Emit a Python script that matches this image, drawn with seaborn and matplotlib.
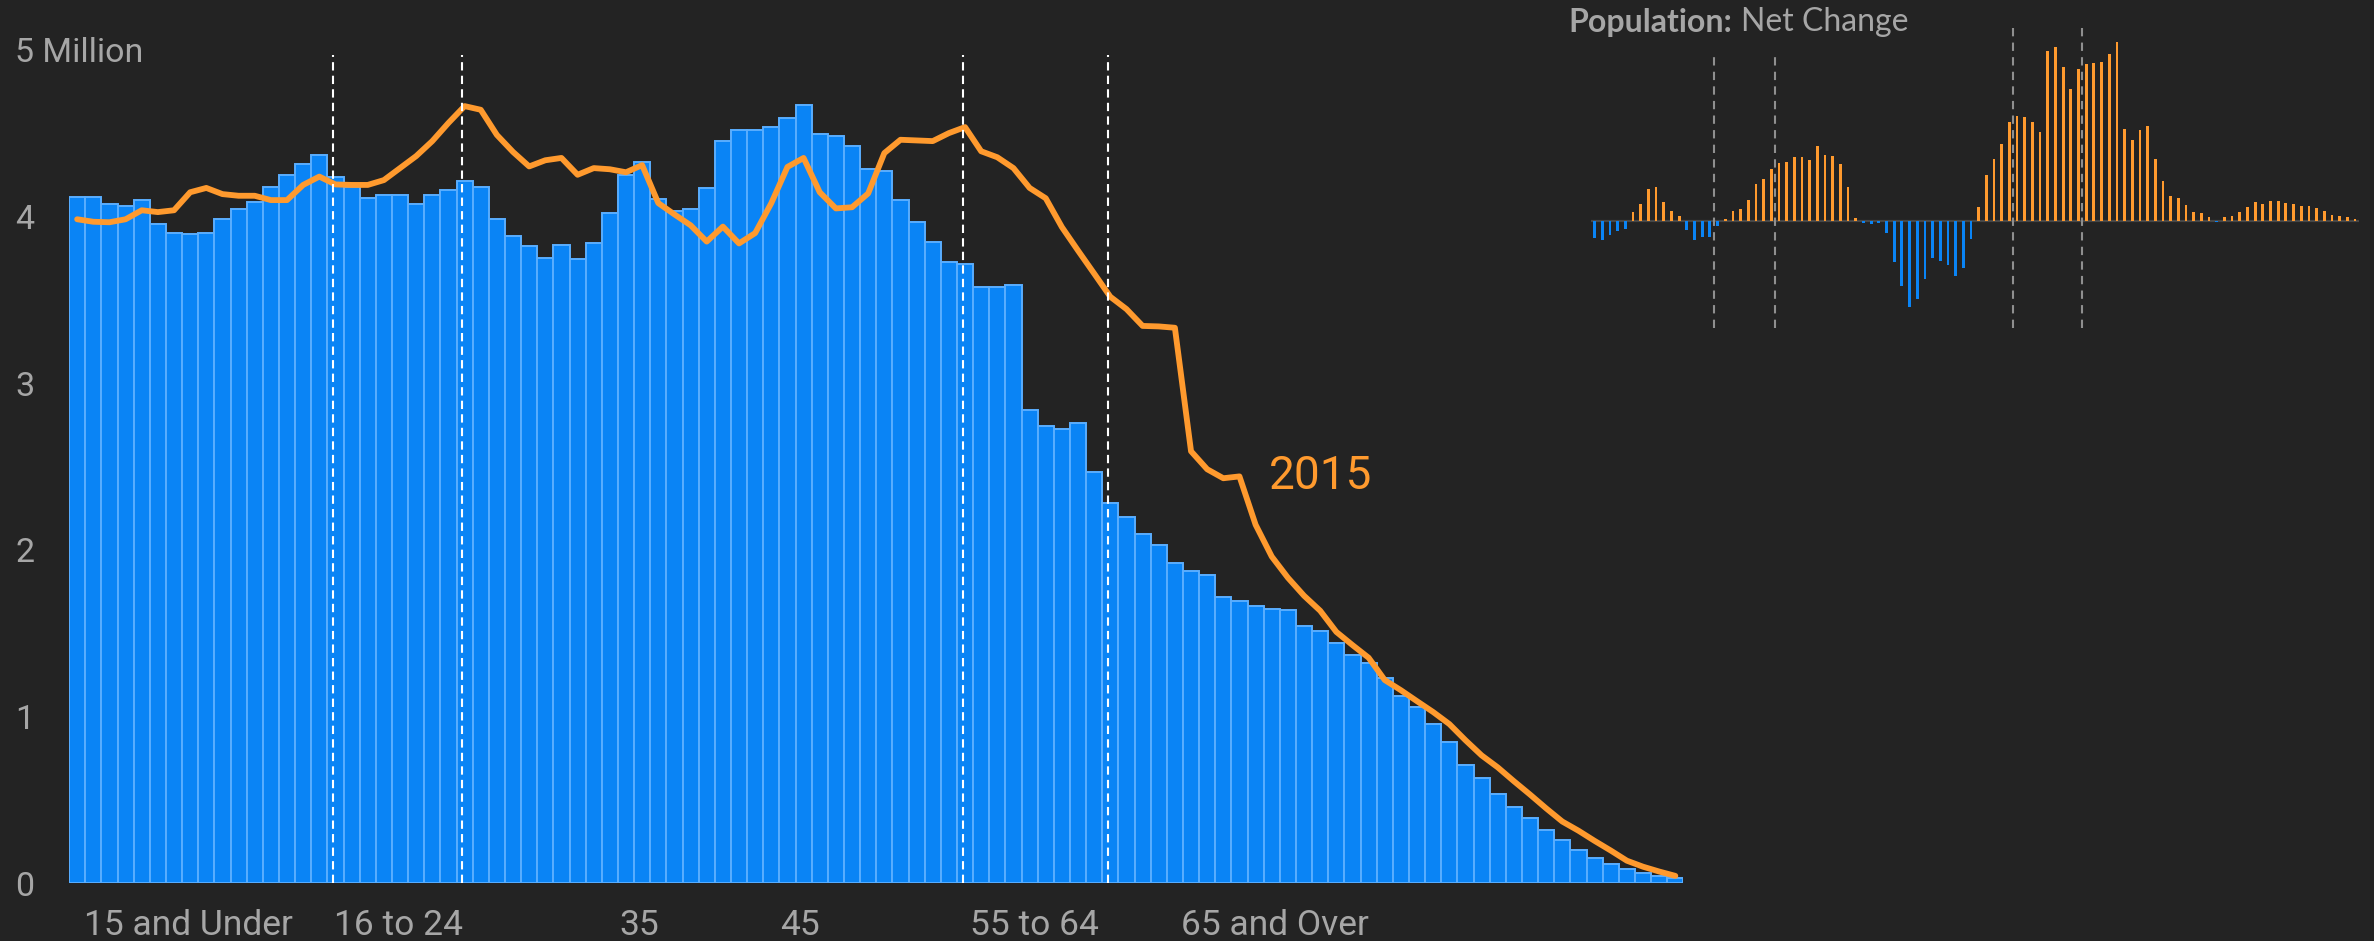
import matplotlib
matplotlib.use("Agg")
import numpy as np
import pandas as pd
import matplotlib.pyplot as plt
import seaborn as sns

# --- data (millions of people by single year of age) ---
ages = list(range(100))
pop_now = [4.116, 4.116, 4.077, 4.062, 4.100, 3.954, 3.903, 3.892, 3.903, 3.983,
           4.044, 4.084, 4.174, 4.246, 4.315, 4.366, 4.236, 4.174, 4.113, 4.127,
           4.127, 4.073, 4.127, 4.156, 4.210, 4.178, 3.986, 3.885, 3.820, 3.748,
           3.831, 3.744, 3.842, 4.019, 4.246, 4.326, 4.102, 4.033, 4.044, 4.171,
           4.452, 4.521, 4.518, 4.536, 4.590, 4.669, 4.496, 4.485, 4.424, 4.283,
           4.275, 4.098, 3.968, 3.845, 3.726, 3.712, 3.578, 3.574, 3.589, 2.837,
           2.743, 2.725, 2.758, 2.465, 2.280, 2.199, 2.094, 2.031, 1.923, 1.872,
           1.850, 1.717, 1.691, 1.662, 1.644, 1.637, 1.543, 1.511, 1.442, 1.370,
           1.323, 1.229, 1.124, 1.055, 0.954, 0.846, 0.708, 0.632, 0.535, 0.455,
           0.390, 0.318, 0.257, 0.199, 0.152, 0.116, 0.087, 0.061, 0.043, 0.029]
pop_2015 = [3.983, 3.968, 3.965, 3.983, 4.037, 4.026, 4.037, 4.145, 4.171, 4.134,
            4.124, 4.124, 4.098, 4.098, 4.189, 4.239, 4.192, 4.189, 4.189, 4.218,
            4.290, 4.362, 4.452, 4.561, 4.662, 4.640, 4.489, 4.387, 4.300, 4.337,
            4.351, 4.250, 4.290, 4.283, 4.265, 4.308, 4.080, 4.012, 3.947, 3.849,
            3.939, 3.838, 3.900, 4.080, 4.297, 4.351, 4.145, 4.048, 4.055, 4.138,
            4.380, 4.460, 4.456, 4.452, 4.500, 4.536, 4.391, 4.355, 4.290, 4.171,
            4.109, 3.936, 3.795, 3.657, 3.518, 3.444, 3.343, 3.340, 3.332, 2.591,
            2.483, 2.429, 2.440, 2.150, 1.959, 1.832, 1.724, 1.634, 1.507, 1.428,
            1.352, 1.218, 1.157, 1.091, 1.026, 0.954, 0.857, 0.766, 0.694, 0.611,
            0.531, 0.448, 0.369, 0.314, 0.253, 0.195, 0.134, 0.098, 0.069, 0.043]
tick_pos = [6.9, 19.9, 34.8, 44.8, 59.3, 74.2]
tick_labels = ["15 and Under", "16 to 24", "35", "45", "55 to 64", "65 and Over"]
y_labels = ["0", "1", "2", "3", "4", "5 Million"]
divider_ages = [16, 24, 55, 64]

BG = "#232323"
BLUE = "#0A84F5"
EDGE = "#5AAEFF"
ORANGE = "#FF9A2E"
GREY = "#A6A6A6"

sns.set_theme(style="dark", rc={"axes.facecolor": BG, "figure.facecolor": BG})
plt.rcParams["font.family"] = ["Roboto", "DejaVu Sans"]

df = pd.DataFrame({"age": ages, "now": pop_now, "y2015": pop_2015})
df["net"] = df["y2015"] - df["now"]
df["sign"] = np.where(df["net"] >= 0, "up", "down")

fig = plt.figure(figsize=(23.74, 9.41), dpi=100)

# --- main chart ---
ax = fig.add_axes([0.0291, 0.0616, 0.680, 0.8855])
sns.barplot(data=df, x="age", y="now", native_scale=True, width=1.0, color=BLUE,
            saturation=1, edgecolor=EDGE, linewidth=1.4, errorbar=None, ax=ax)
sns.lineplot(data=df, x="age", y="y2015", color=ORANGE, linewidth=4.2, ax=ax)
for d in divider_ages:
    ax.axvline(d - 0.15, ymin=0, ymax=0.994, color="white", lw=1.5,
               linestyle=(0, (4, 2.5)), zorder=5)
ax.text(77.0, 2.44, "2015", ha="center", va="center", fontsize=33, color=ORANGE)

ax.set_xlim(-0.5, 99.5)
ax.set_ylim(0, 5)
ax.set_xticks(tick_pos)
ax.set_xticklabels(tick_labels)
ax.set_xticks([d - 0.15 for d in divider_ages], minor=True)
ax.set_yticks(range(6))
ax.set_yticklabels(y_labels, ha="left")
ax.tick_params(axis="x", which="major", length=0, pad=19, labelsize=25.5, labelcolor=GREY)
ax.tick_params(axis="x", which="minor", length=6.5, width=1.5, color="white", direction="out")
ax.tick_params(axis="y", length=0, pad=38.9, labelsize=24.5, labelcolor=GREY)
ax.set_xlabel("")
ax.set_ylabel("")
ax.grid(False)
sns.despine(ax=ax, left=True, bottom=True)

# --- inset: net change ---
ax2 = fig.add_axes([0.6701, 0.644, 0.3235, 0.3294])
ax2.axhline(0, color="#474747", lw=1.6, zorder=0)
sns.barplot(data=df, x="age", y="net", hue="sign", palette={"up": ORANGE, "down": BLUE},
            native_scale=True, width=0.36, dodge=False, saturation=1, errorbar=None,
            linewidth=0, legend=False, ax=ax2)
ax2.vlines([d - 0.5 for d in divider_ages], -0.845, [1.305, 1.305, 1.517, 1.517],
           color="#8f8f8f", lw=1.5, linestyles=(0, (4, 3)))
ax2.set_xlim(-0.5, 99.5)
ax2.set_ylim(-0.9, 1.541)
ax2.set_xticks([])
ax2.set_yticks([])
ax2.set_xlabel("")
ax2.set_ylabel("")
ax2.grid(False)
sns.despine(ax=ax2, left=True, bottom=True)

# title made of a bold and a regular part
t1 = fig.text(0.6605, 0.9766, "Population:", fontsize=23, fontweight="bold",
              family=["Lato", "DejaVu Sans"], color=GREY, va="center")
fig.canvas.draw()
bb = t1.get_window_extent().transformed(fig.transFigure.inverted())
fig.text(bb.x1 + 0.004, 0.9766, "Net Change", fontsize=23,
         family=["Lato", "DejaVu Sans"], color=GREY, va="center")

fig.savefig("out.png", dpi=100, facecolor=BG)
